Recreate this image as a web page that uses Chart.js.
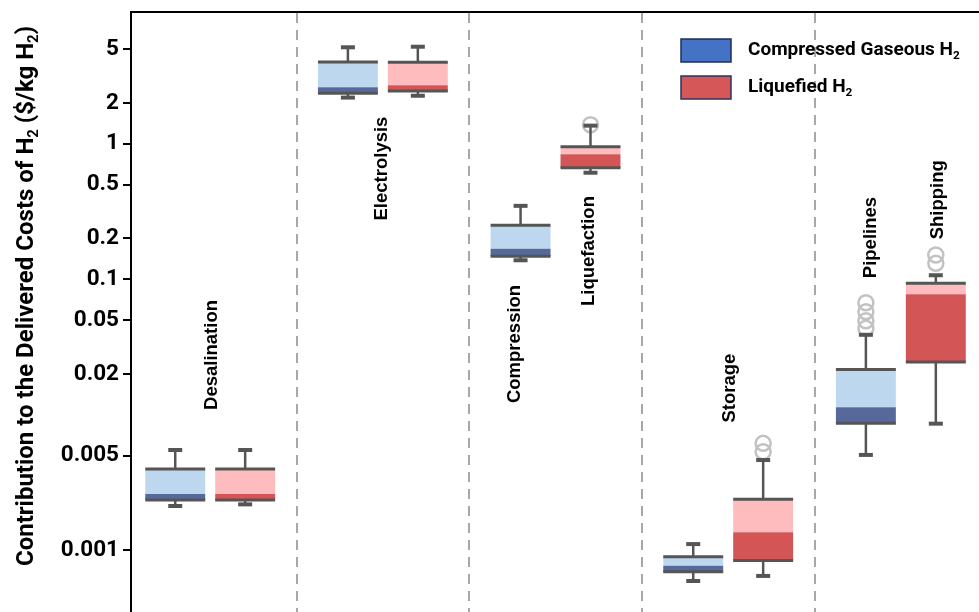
<!DOCTYPE html>
<html>
<head>
<meta charset="utf-8">
<script src="https://cdn.jsdelivr.net/npm/chart.js@4.4.1/dist/chart.umd.min.js"></script>
<style>
html, body { margin: 0; padding: 0; background: #fff; overflow: hidden; }
</style>
</head>
<body>
<canvas id="myChart" width="979" height="612"></canvas>
<script>
// stage groups (x positions 0..4); blue box on the left, red box on the right
var groups = ['Desalination', 'Electrolysis', 'Conversion', 'Storage', 'Transport'];
var seriesNames = ['Compressed Gaseous H_2', 'Liquefied H_2'];

// compressed gaseous H2: whisker low, Q1, median, Q3, whisker high, outliers
var gasLo  = [0.00212, 2.19, 0.138, 0.000593, 0.00505];
var gasQ1  = [0.00235, 2.36, 0.148, 0.000694, 0.00865];
var gasMed = [0.0026,  2.61, 0.168, 0.000769, 0.01135];
var gasQ3  = [0.00397, 4.01, 0.250, 0.000895, 0.0216];
var gasHi  = [0.00549, 5.15, 0.348, 0.00111,  0.0389];
var gasOut = [[], [], [], [], [0.0434, 0.0494, 0.0576, 0.0671]];

// liquefied H2
var liqLo  = [0.00218, 2.26, 0.611, 0.000646, 0.00859];
var liqQ1  = [0.00235, 2.45, 0.666, 0.000841, 0.0245];
var liqMed = [0.0026,  2.70, 0.836, 0.001356, 0.0774];
var liqQ3  = [0.00397, 3.99, 0.950, 0.00238,  0.0933];
var liqHi  = [0.00549, 5.20, 1.36,  0.00463,  0.107];
var liqOut = [[], [], [1.38], [0.00533, 0.00615], [0.131, 0.151]];

var yTicks = [5, 2, 1, 0.5, 0.2, 0.1, 0.05, 0.02, 0.005, 0.001];
var separators = [0.5, 1.5, 2.5, 3.5];

// rotated stage labels: text, x (group units), y (value at text centre)
var stageLabels = [
    { text: 'Desalination', x: 0.01,  y: 0.0276 },
    { text: 'Electrolysis', x: 0.992, y: 0.656 },
    { text: 'Compression',  x: 1.765, y: 0.0333 },
    { text: 'Liquefaction', x: 2.196, y: 0.1615 },
    { text: 'Storage',      x: 3.01,  y: 0.0157 },
    { text: 'Pipelines',    x: 3.827, y: 0.203 },
    { text: 'Shipping',     x: 4.217, y: 0.386 }
];

var series = [
    { lo: gasLo, q1: gasQ1, med: gasMed, q3: gasQ3, hi: gasHi, out: gasOut },
    { lo: liqLo, q1: liqQ1, med: liqMed, q3: liqQ3, hi: liqHi, out: liqOut }
];

function pairs(a, b) {
    return groups.map(function(g, i) { return { x: i, y: [a[i], b[i]] }; });
}

// draws "H_2" style text with a real subscript
function subText(ctx, str, x, y, size, weight, family, align) {
    var segs = [];
    for (var i = 0; i < str.length; i++) {
        if (str[i] === '_') { segs.push({ t: str[i + 1], sub: true }); i++; }
        else if (segs.length && !segs[segs.length - 1].sub) segs[segs.length - 1].t += str[i];
        else segs.push({ t: str[i], sub: false });
    }
    var total = 0;
    segs.forEach(function(s) {
        ctx.font = weight + ' ' + (s.sub ? size * 0.62 : size) + 'px ' + family;
        s.w = ctx.measureText(s.t).width;
        total += s.w;
    });
    var cx = align === 'center' ? x - total / 2 : x;
    ctx.textAlign = 'left';
    ctx.textBaseline = 'middle';
    segs.forEach(function(s) {
        ctx.font = weight + ' ' + (s.sub ? size * 0.62 : size) + 'px ' + family;
        ctx.fillText(s.t, cx, s.sub ? y + size * 0.3 : y);
        cx += s.w;
    });
}

function line(ctx, x1, y1, x2, y2) {
    ctx.beginPath();
    ctx.moveTo(x1, y1);
    ctx.lineTo(x2, y2);
    ctx.stroke();
}

var boxPlugin = {
    id: 'boxes',
    afterDatasetsDraw: function(chart) {
        var ctx = chart.ctx;
        var ys = chart.scales.y, xs = chart.scales.x;
        ctx.save();
        series.forEach(function(s, si) {
            var meta = chart.getDatasetMeta(si * 2);
            meta.data.forEach(function(bar, i) {
                var cx = bar.x, half = bar.width / 2;
                var yq1 = ys.getPixelForValue(s.q1[i]), yq3 = ys.getPixelForValue(s.q3[i]);
                var ylo = ys.getPixelForValue(s.lo[i]), yhi = ys.getPixelForValue(s.hi[i]);
                ctx.strokeStyle = '#c2c2c2';
                ctx.lineWidth = 2.5;
                s.out[i].forEach(function(v) {
                    ctx.beginPath();
                    ctx.arc(cx, ys.getPixelForValue(v), 7.5, 0, Math.PI * 2);
                    ctx.stroke();
                });
                ctx.strokeStyle = '#555555';
                ctx.lineWidth = 2.5;
                line(ctx, cx, yq3, cx, yhi);
                line(ctx, cx, ylo, cx, yq1);
                ctx.lineWidth = 4;
                line(ctx, cx - 7, yhi, cx + 7, yhi);
                line(ctx, cx - 7, ylo, cx + 7, ylo);
                ctx.lineWidth = 3;
                line(ctx, cx - half, yq3, cx + half, yq3);
                line(ctx, cx - half, yq1, cx + half, yq1);
            });
        });

        // stage labels
        ctx.fillStyle = '#000';
        ctx.font = 'bold 18.5px "Liberation Sans", Arial, sans-serif';
        ctx.textAlign = 'center';
        ctx.textBaseline = 'middle';
        stageLabels.forEach(function(l) {
            ctx.save();
            ctx.translate(xs.getPixelForValue(l.x), ys.getPixelForValue(l.y));
            ctx.rotate(-Math.PI / 2);
            ctx.fillText(l.text, 0, 0);
            ctx.restore();
        });

        // legend
        var legendColors = [['#4472c4', '#1f2d57'], ['#d55757', '#2a3460']];
        seriesNames.forEach(function(name, k) {
            var top = 39 + k * 37;
            ctx.fillStyle = legendColors[k][0];
            ctx.fillRect(681, top, 50, 23);
            ctx.strokeStyle = legendColors[k][1];
            ctx.lineWidth = 1.5;
            ctx.strokeRect(681, top, 50, 23);
            ctx.fillStyle = '#000';
            subText(ctx, name, 748, top + 11, 19, 'bold', 'Roboto, sans-serif', 'left');
        });

        // y axis title
        ctx.save();
        ctx.translate(27, 296);
        ctx.rotate(-Math.PI / 2);
        ctx.fillStyle = '#000';
        subText(ctx, 'Contribution to the Delivered Costs of H_2 ($/kg H_2)', 0, 0, 24, 'bold', 'Roboto, sans-serif', 'center');
        ctx.restore();
        ctx.restore();
    }
};

var ctx = document.getElementById('myChart').getContext('2d');
var chart = new Chart(ctx, {
    type: 'bar',
    data: {
        datasets: [
            { label: 'gas lower', data: pairs(gasQ1, gasMed), backgroundColor: '#56699a', stack: 'gas' },
            { label: 'gas upper', data: pairs(gasMed, gasQ3), backgroundColor: '#bdd7ee', stack: 'gas' },
            { label: 'liq lower', data: pairs(liqQ1, liqMed), backgroundColor: '#d45556', stack: 'liq' },
            { label: 'liq upper', data: pairs(liqMed, liqQ3), backgroundColor: '#ffbcbf', stack: 'liq' }
        ]
    },
    options: {
        responsive: false,
        animation: false,
        layout: { padding: { top: 12, left: 0, right: 0, bottom: 0 } },
        categoryPercentage: 0.81,
        barPercentage: 0.857,
        plugins: { legend: { display: false }, tooltip: { enabled: false } },
        scales: {
            x: {
                type: 'linear',
                position: 'top',
                stacked: true,
                offset: false,
                min: -0.4587,
                max: 4.4526,
                afterBuildTicks: function(scale) {
                    scale.ticks = separators.map(function(v) { return { value: v }; });
                },
                ticks: { display: false },
                grid: { drawTicks: false, offset: false, color: '#a8a8a8', lineWidth: 2 },
                border: { display: true, color: '#000', width: 2, dash: [10, 7] }
            },
            y: {
                type: 'logarithmic',
                stacked: false,
                min: 0.00035,
                max: 9.38,
                afterBuildTicks: function(scale) {
                    scale.ticks = yTicks.map(function(v) { return { value: v }; });
                },
                afterFit: function(scale) {
                    scale.width = 131;
                    scale.paddingTop = 0;
                    scale.paddingBottom = 0;
                },
                ticks: {
                    color: '#000',
                    padding: 4,
                    font: { family: 'Roboto', weight: 'bold', size: 22.5 },
                    callback: function(v) { return String(v); }
                },
                grid: { drawOnChartArea: false, color: '#000', lineWidth: 2, tickLength: 8 },
                border: { display: true, color: '#000', width: 2 }
            }
        }
    },
    plugins: [boxPlugin]
});
</script>
</body>
</html>
